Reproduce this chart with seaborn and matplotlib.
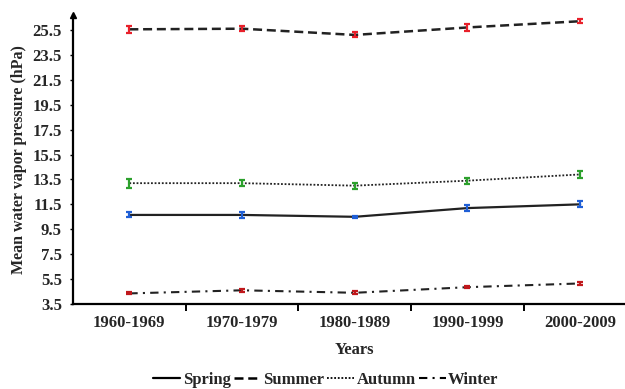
import matplotlib
matplotlib.use("Agg")
import matplotlib.pyplot as plt
import seaborn as sns
import numpy as np
from matplotlib.lines import Line2D

decades = ["1960-1969", "1970-1979", "1980-1989", "1990-1999", "2000-2009"]
seasons = ["Spring", "Summer", "Autumn", "Winter"]

spring = [10.65, 10.65, 10.5, 11.2, 11.5]
spring_err = [0.2, 0.22, 0.1, 0.25, 0.25]
summer = [25.55, 25.6, 25.1, 25.7, 26.2]
summer_err = [0.3, 0.2, 0.2, 0.25, 0.15]
autumn = [13.2, 13.2, 13.0, 13.4, 13.9]
autumn_err = [0.37, 0.22, 0.25, 0.25, 0.25]
winter = [4.35, 4.6, 4.4, 4.85, 5.15]
winter_err = [0.08, 0.1, 0.12, 0.1, 0.15]

yticks = [3.5, 5.5, 7.5, 9.5, 11.5, 13.5, 15.5, 17.5, 19.5, 21.5, 23.5, 25.5]

sns.set_theme(style="white")
plt.rcParams["font.family"] = ["Liberation Serif", "DejaVu Serif"]
plt.rcParams["font.weight"] = "bold"

fig = plt.figure(figsize=(6.25, 3.89), dpi=100)
ax = fig.add_axes([73 / 625, 85 / 389, (636.5 - 73) / 625, (304 - 15) / 389])

series = [
    (spring, spring_err, "-", 1.6, "#1f5fd6"),
    (summer, summer_err, (0, (3.6, 1.9)), 1.8, "#e8202a"),
    (autumn, autumn_err, (0, (1, 1)), 1.3, "#2ca02c"),
    (winter, winter_err, (0, (4, 2.5, 1, 2.5)), 1.5, "#c0181c"),
]

x = np.arange(len(decades))
handles = []
for (vals, errs, ls, lw, ecol), name in zip(series, seasons):
    sns.lineplot(x=x, y=vals, ax=ax, color="#222222", linewidth=lw, linestyle=ls)
    ax.errorbar(x, vals, yerr=errs, fmt="none", ecolor=ecol, elinewidth=1.6,
                capsize=2.5, capthick=1.6, zorder=3)
    handles.append(Line2D([0], [0], color="black", linewidth=lw, linestyle=ls, label=name))

ax.set_xlim(-0.5, 4.5)
ax.set_ylim(3.5, 26.7)
ax.set_yticks(yticks)
ax.set_yticklabels([f"{v:.1f}" for v in yticks], fontsize=12, fontweight="bold")
ax.set_xticks(x)
ax.set_xticklabels(decades, fontsize=12, fontweight="bold")
ax.set_xticks([0.5, 1.5, 2.5, 3.5], minor=True)
ax.tick_params(axis="x", which="major", length=0, pad=8)
ax.tick_params(axis="x", which="minor", length=5, width=1.4, direction="out", color="black", bottom=True)
ax.tick_params(axis="y", length=2, width=1, direction="out", color="black", left=True, pad=6)

for side in ["top", "right"]:
    ax.spines[side].set_visible(False)
for side in ["left", "bottom"]:
    ax.spines[side].set_color("black")
    ax.spines[side].set_linewidth(1.6)
ax.plot(0, 1, marker="^", color="black", markersize=5, transform=ax.transAxes, clip_on=False)

ax.set_xlabel("Years", fontsize=12, fontweight="bold", labelpad=8)
ax.set_ylabel("Mean water vapor pressure (hPa)", fontsize=11.5, fontweight="bold", labelpad=4)

fig.legend(handles=handles, loc="center", bbox_to_anchor=(326 / 625, 1 - 380 / 389),
           ncol=4, frameon=False, handlelength=1.6, handletextpad=0.15, columnspacing=0.2,
           prop={"size": 12, "weight": "bold"})

fig.savefig("out.png", dpi=100)
